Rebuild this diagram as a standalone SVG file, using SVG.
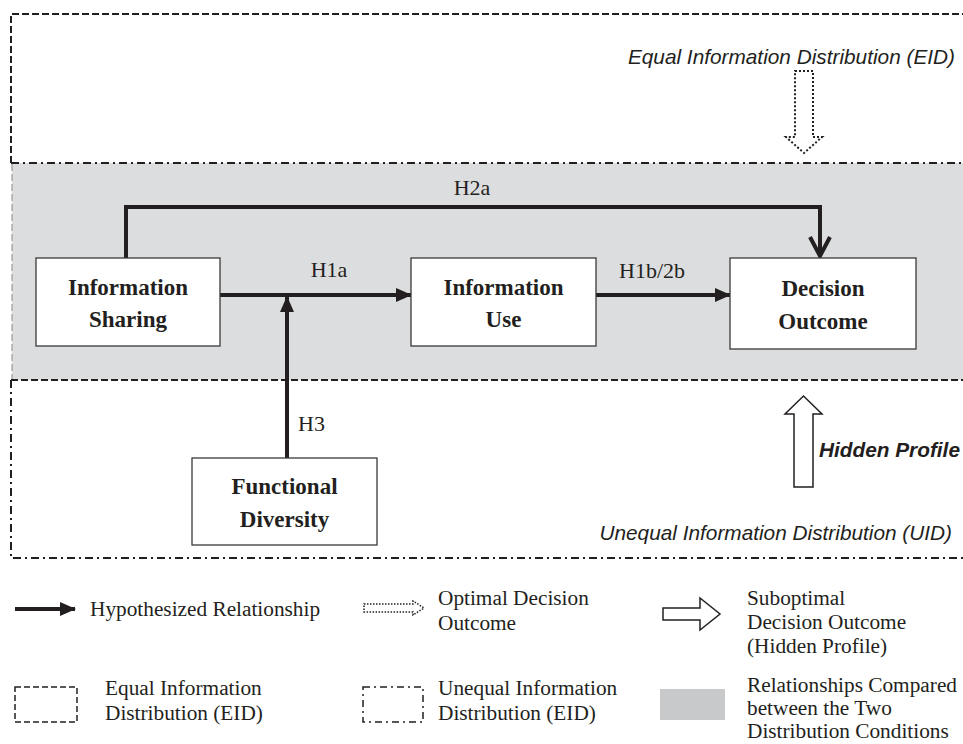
<svg xmlns="http://www.w3.org/2000/svg" width="963" height="744" viewBox="0 0 963 744">
<defs>
<style>
.box{fill:#fff;stroke:#3a3a3a;stroke-width:1.3}
.nt{font-family:"Liberation Serif",serif;font-weight:bold;font-size:23px;fill:#231f20;text-anchor:middle}
.lb{font-family:"Liberation Serif",serif;font-size:22px;fill:#231f20}
.lg{font-family:"Liberation Serif",serif;font-size:21.3px;fill:#231f20}
.it{font-family:"Liberation Sans",sans-serif;font-style:italic;font-size:20.8px;fill:#231f20}
.conn{fill:none;stroke:#231f20;stroke-width:4}
.dash{fill:none;stroke:#231f20;stroke-width:2;stroke-dasharray:7 3}
.dashdot{fill:none;stroke:#231f20;stroke-width:2;stroke-dasharray:8 4 2 4}
</style>
<marker id="tri" viewBox="0 0 16 14" refX="15" refY="7" markerWidth="16" markerHeight="14" markerUnits="userSpaceOnUse" orient="auto">
<path d="M0,0 L16,7 L0,14 Z" fill="#231f20"/>
</marker>
</defs>

<g id="regions">
<rect x="12" y="163" width="960" height="217" fill="#dcdddf"/>
<path class="dash" d="M11,163 L11,14 L972,14"/>
<line x1="12" y1="164" x2="12" y2="380" stroke="#9a9a9a" stroke-width="1.2" stroke-dasharray="7 3"/>
<line class="dash" x1="11" y1="380" x2="972" y2="380"/>
<line class="dashdot" x1="11" y1="163" x2="972" y2="163"/>
<path class="dashdot" d="M11,380 L11,558 L972,558"/>
<text class="it" x="955" y="64" text-anchor="end">Equal Information Distribution (EID)</text>
<path d="M795,71 L813,71 L813,137 L822,137 L804,153 L786,137 L795,137 Z" fill="none" stroke="#231f20" stroke-width="2" stroke-dasharray="2 2"/>
<path d="M794,487 L813,487 L813,414 L822,414 L803.5,396 L785,414 L794,414 Z" fill="#fff" stroke="#231f20" stroke-width="1.5"/>
<text class="it" x="819" y="457" font-weight="bold">Hidden Profile</text>
<text class="it" x="952" y="540" text-anchor="end">Unequal Information Distribution (UID)</text>
</g>

<g id="connectors">
<path class="conn" d="M126,258 L126,207 L820,207 L820,255"/>
<path d="M810,237 L820,256 L830,237" fill="none" stroke="#231f20" stroke-width="4"/>
<line class="conn" x1="220" y1="295" x2="411" y2="295" marker-end="url(#tri)"/>
<line class="conn" x1="596" y1="295" x2="730" y2="295" marker-end="url(#tri)"/>
<line class="conn" x1="287" y1="458" x2="287" y2="297" marker-end="url(#tri)"/>
<text class="lb" x="472" y="195" text-anchor="middle">H2a</text>
<text class="lb" x="329" y="277" text-anchor="middle">H1a</text>
<text class="lb" x="652" y="278" text-anchor="middle">H1b/2b</text>
<text class="lb" x="298" y="431">H3</text>
</g>

<g id="node-information-sharing">
<rect class="box" x="36" y="258" width="184" height="88"/>
<text class="nt" x="128" y="295">Information</text>
<text class="nt" x="128" y="327">Sharing</text>
</g>

<g id="node-information-use">
<rect class="box" x="411" y="258" width="185" height="88"/>
<text class="nt" x="503.5" y="295">Information</text>
<text class="nt" x="503.5" y="327">Use</text>
</g>

<g id="node-decision-outcome">
<rect class="box" x="730" y="258" width="186" height="91"/>
<text class="nt" x="823" y="296">Decision</text>
<text class="nt" x="823" y="329">Outcome</text>
</g>

<g id="node-functional-diversity">
<rect class="box" x="192" y="458" width="185" height="87"/>
<text class="nt" x="284.5" y="494">Functional</text>
<text class="nt" x="284.5" y="527">Diversity</text>
</g>

<g id="legend">
<line x1="15" y1="609" x2="75" y2="609" stroke="#231f20" stroke-width="4" marker-end="url(#tri)"/>
<text class="lg" x="90" y="616">Hypothesized Relationship</text>
<path d="M364,604 L413,604 L413,601 L424,608 L413,615 L413,612 L364,612 Z" fill="none" stroke="#231f20" stroke-width="1.5" stroke-dasharray="1.5 1.5"/>
<text class="lg" x="438" y="605">Optimal Decision</text>
<text class="lg" x="438" y="630">Outcome</text>
<path d="M663,608 L700,608 L700,598 L720,614 L700,630 L700,620 L663,620 Z" fill="#fff" stroke="#231f20" stroke-width="1.5"/>
<text class="lg" x="747" y="605">Suboptimal</text>
<text class="lg" x="747" y="629">Decision Outcome</text>
<text class="lg" x="747" y="653">(Hidden Profile)</text>
<rect x="15" y="687" width="62" height="35" fill="none" stroke="#231f20" stroke-width="1.5" stroke-dasharray="6 3"/>
<text class="lg" x="105" y="695">Equal Information</text>
<text class="lg" x="105" y="720">Distribution (EID)</text>
<rect x="363" y="687" width="60" height="35" fill="none" stroke="#231f20" stroke-width="1.5" stroke-dasharray="7 4 2 4"/>
<text class="lg" x="438" y="695">Unequal Information</text>
<text class="lg" x="438" y="720">Distribution (EID)</text>
<rect x="660" y="689" width="65" height="31" fill="#c8c9cb"/>
<text class="lg" x="747" y="692">Relationships Compared</text>
<text class="lg" x="747" y="715">between the Two</text>
<text class="lg" x="747" y="738">Distribution Conditions</text>
</g>
</svg>
